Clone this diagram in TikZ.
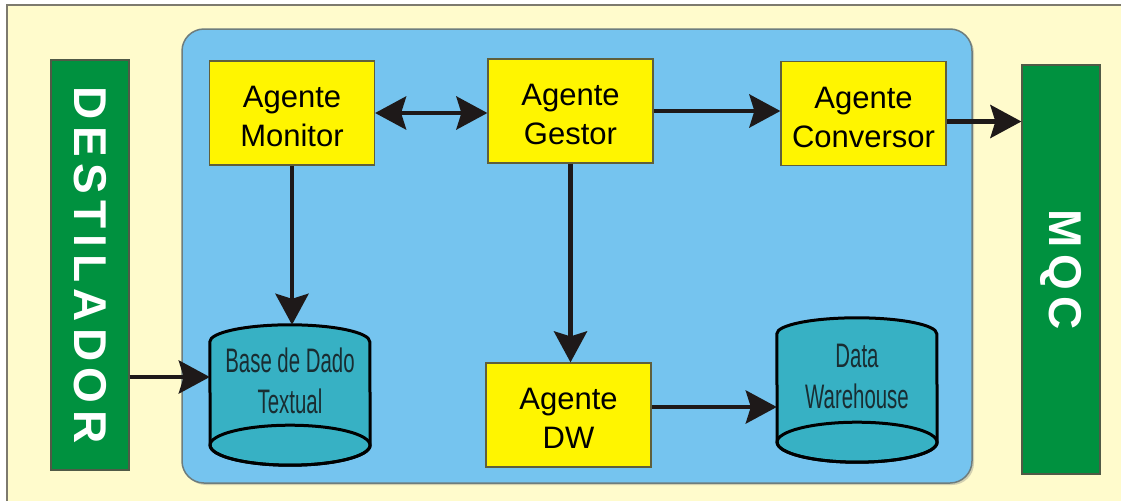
\documentclass[tikz,border=0pt]{standalone}
\usepackage{fontspec}
\setmainfont{Liberation Sans}
\newfontfamily\narrowfont[FakeStretch=0.6]{Liberation Sans}
\newfontfamily\sidefont[LetterSpace=14]{Liberation Sans}
\usetikzlibrary{arrows.meta,shadows}
\definecolor{paper}{RGB}{255,251,204}
\definecolor{frameline}{RGB}{125,122,110}
\definecolor{sysblue}{RGB}{117,196,239}
\definecolor{sysline}{RGB}{110,125,125}
\definecolor{agentyellow}{RGB}{255,245,0}
\definecolor{agentline}{RGB}{95,95,60}
\definecolor{sidegreen}{RGB}{0,145,63}
\definecolor{sideline}{RGB}{80,90,70}
\definecolor{storeteal}{RGB}{55,177,196}
\definecolor{storetext}{RGB}{25,45,50}
\definecolor{arrowblack}{RGB}{30,25,25}
\tikzset{% common styles of the diagram elements
  container/.style = {shape=rectangle, rounded corners=22pt,
                      draw=sysline, line width=1.5pt, fill=sysblue,
                      minimum width=790pt, minimum height=454pt,
                      drop shadow={shadow xshift=2pt, shadow yshift=-2pt, opacity=.35}},
  agent/.style     = {shape=rectangle, draw=agentline, line width=1.2pt,
                      fill=agentyellow, align=center, inner sep=0pt,
                      minimum width=165pt, minimum height=104pt,
                      font=\fontsize{31}{39}\selectfont},
  store/.style     = {shape=rectangle, inner sep=0pt, minimum width=160pt},
  storebody/.style = {draw=black, line width=3pt, fill=storeteal},
  storetxt/.style  = {align=center, inner sep=0pt, text=storetext,
                      font=\narrowfont\fontsize{34}{41}\selectfont},
  side/.style      = {shape=rectangle, draw=sideline, line width=1.2pt,
                      fill=sidegreen, inner sep=0pt, minimum width=78pt,
                      text=white, font=\sidefont\bfseries\fontsize{46}{46}\selectfont},
  link/.style      = {draw=arrowblack, line width=4.5pt, -{Stealth[length=31pt, width=33pt, inset=5pt]}},
  twoway/.style    = {link, {Stealth[length=31pt, width=33pt, inset=5pt]}-{Stealth[length=31pt, width=33pt, inset=5pt]}},
}
\newcommand\agentstrut{\rule{0pt}{28.5pt}}% lowers the two text lines a bit
\newcommand\storedrum[3]{% node name, top radius, bottom radius
  \path[storebody] ([yshift=-#2]#1.north west)
      arc[start angle=180, end angle=0, x radius=80pt, y radius=#2]
      -- ([yshift=#3]#1.south east)
      arc[start angle=0, end angle=-180, x radius=80pt, y radius=#3] -- cycle;
  \draw[storebody, fill=none] ([yshift=#3]#1.south) ellipse[x radius=80pt, y radius=#3];
}
\begin{document}
\begin{tikzpicture}[x=1pt, y=-1pt]
  \useasboundingbox (0,0) rectangle (1121,501);
  % paper and frame
  \fill[paper] (7,5) rectangle (1121,501);
  \draw[frameline, line width=1.5pt] (7,501) |- (1121,5);
  % blue system box
  \node (sys) [container] at (577,256) {};
  % outer blocks
  \node (dest) [side, minimum height=410pt] at (90,265) {\rotatebox{-90}{DESTILADOR}};
  \node (mqc)  [side, minimum height=409pt] at (1061,269.5) {\rotatebox{-90}{MQC}};
  % agents
  \node (mon)  [agent] at (292,113)   {\agentstrut Agente\\Monitor};
  \node (ges)  [agent] at (570.5,111) {\agentstrut Agente\\Gestor};
  \node (conv) [agent] at (863.5,113.5) {\agentstrut Agente\\Conversor};
  \node (dw)   [agent] at (568.5,415) {\agentstrut Agente\\DW};
  % data stores
  \node (base) [store, minimum height=140pt] at (290,395) {};
  \node (wh)   [store, minimum height=144pt] at (857,390) {};
  \storedrum{base}{17pt}{20pt}
  \storedrum{wh}{16pt}{20pt}
  \node (basetxt) [storetxt] at (290,381) {Base de Dado\\Textual};
  \node (whtxt)   [storetxt] at (857,376) {Data\\Warehouse};
  % connectors
  \draw[twoway] (mon.east) -- (mon.east -| ges.west);
  \draw[link] (ges.east) -- (ges.east -| conv.west);
  \draw[link] ([yshift=-8pt]conv.east) -- ([yshift=-8pt]conv.east -| mqc.west);
  \draw[link] (mon.south) -- (mon.south |- base.north);
  \draw[link] (ges.south) -- (ges.south |- dw.north);
  \draw[link] ([yshift=18pt]base.west -| dest.east) -- ([yshift=18pt]base.west);
  \draw[link] ([yshift=8pt]dw.east) -- ([yshift=8pt]dw.east -| wh.west);
\end{tikzpicture}
\end{document}
